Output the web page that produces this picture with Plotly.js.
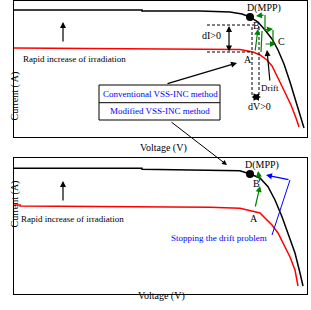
<!DOCTYPE html>
<html>
<head>
<meta charset="utf-8">
<script src="https://cdn.plot.ly/plotly-3.0.1.min.js"></script>
<style>html,body{margin:0;padding:0;background:#fff}#chart{width:311px;height:310px}</style>
</head>
<body>
<div id="chart"></div>
<script>
// ---- Data (voltage / current readings, arbitrary units) ----
// Top panel: conventional VSS-INC method
var topHighV = [0, 128, 128, 186, 216, 228, 236, 244, 251, 258, 264, 270, 276, 282, 287, 290];
var topHighI = [127, 127, 126, 126, 125, 123, 120, 115, 107, 98, 87, 73, 55, 35, 17, 9];
var topLowV  = [0, 226, 239, 246, 253, 258, 264, 271, 277, 282, 285];
var topLowI  = [89, 87.5, 85, 82, 77, 71, 59, 45, 32, 19, 10];
var topMppV = [236];
var topMppI = [120];
// Bottom panel: modified VSS-INC method
var botHighV = [0, 128, 128, 216, 226, 236, 246, 254, 261, 268, 274, 281, 286, 289];
var botHighI = [125.7, 125.7, 124.7, 124, 123.3, 120, 116, 107.3, 94, 77.3, 61, 41, 21, 8];
var botLowV  = [0, 6, 6, 136, 196, 226, 239, 246, 251, 258, 264, 269, 276, 281, 284];
var botLowI  = [89, 89, 88, 87.3, 86.7, 85.7, 83, 81, 76, 69, 61, 51, 37, 24, 8];
var botMppV = [236];
var botMppI = [120];

var legendLabels = ['Conventional VSS-INC method', 'Modified VSS-INC method'];
var xTitle = 'Voltage (V)';
var yTitles = ['Current ( A)', 'Current (A)'];
var irradText = 'Rapid increase of irradiation';
var stopText = 'Stopping the drift problem';

var SERIF = '"Liberation Serif", "Times New Roman", serif';
var GREEN = '#008000', BLUE = '#0000ff', RED = '#ff0000';
var DASH = '3px,2px';

function line(x, y, xa, ya, color, w) {
  return {type: 'scatter', mode: 'lines', x: x, y: y, xaxis: xa, yaxis: ya,
          line: {color: color, width: w || 1.5}, hoverinfo: 'skip', showlegend: false};
}
function dot(x, y, xa, ya) {
  return {type: 'scatter', mode: 'markers', x: x, y: y, xaxis: xa, yaxis: ya,
          marker: {color: '#000', size: 8}, hoverinfo: 'skip', showlegend: false};
}
var data = [
  line(topHighV, topHighI, 'x', 'y', '#000'),
  line(topLowV, topLowI, 'x', 'y', RED),
  line(botHighV, botHighI, 'x2', 'y2', '#000'),
  line(botLowV, botLowI, 'x2', 'y2', RED),
  dot(topMppV, topMppI, 'x', 'y'),
  dot(botMppV, botMppI, 'x2', 'y2')
];

function txt(t, x, y, p, size, color, extra) {
  var a = {text: t, x: x, y: y, xref: p === 2 ? 'x2' : 'x', yref: p === 2 ? 'y2' : 'y',
           showarrow: false, font: {family: SERIF, size: size, color: color || '#000'}};
  for (var k in extra || {}) a[k] = extra[k];
  return a;
}
function arrow(x0, y0, x1, y1, p, color, extra) {
  var xr = p === 2 ? 'x2' : 'x', yr = p === 2 ? 'y2' : 'y';
  var a = {x: x1, y: y1, ax: x0, ay: y0, xref: xr, yref: yr, axref: xr, ayref: yr,
           text: '', showarrow: true, arrowhead: 2, arrowsize: 1, arrowwidth: 1.2,
           arrowcolor: color || '#000'};
  for (var k in extra || {}) a[k] = extra[k];
  return a;
}
function seg(x0, y0, x1, y1, p, color, dash, w) {
  return {type: 'line', x0: x0, y0: y0, x1: x1, y1: y1,
          xref: p === 2 ? 'x2' : 'x', yref: p === 2 ? 'y2' : 'y',
          line: {color: color || '#000', width: w || 1, dash: dash || 'solid'}};
}

var annotations = [
  // axis titles
  {text: yTitles[0], x: 6 / 311, y: 1 - 70 / 310, xref: 'paper', yref: 'paper', showarrow: false,
   textangle: -90, font: {family: SERIF, size: 10, color: '#000'}},
  {text: xTitle, x: 163 / 311, y: 1 - 148 / 310, xref: 'paper', yref: 'paper', showarrow: false,
   font: {family: SERIF, size: 10, color: '#000'}},
  {text: yTitles[1], x: 6 / 311, y: 1 - 230 / 310, xref: 'paper', yref: 'paper', showarrow: false,
   textangle: -90, font: {family: SERIF, size: 10, color: '#000'}},
  {text: xTitle, x: 161 / 311, y: 1 - 304 / 310, xref: 'paper', yref: 'paper', showarrow: false,
   font: {family: SERIF, size: 10, color: '#000'}},
  // top panel
  arrow(49, 94, 49, 115, 1),
  txt(irradText, 7, 78, 1, 9, '#000', {xanchor: 'left'}),
  txt(legendLabels[0], 146, 43, 1, 9, BLUE),
  txt(legendLabels[1], 146, 26, 1, 9, BLUE),
  arrow(152, 53, 223, 74, 1),
  txt('dI>0', 197, 101, 1, 10),
  arrow(215, 84, 215, 111, 1, '#000', {arrowside: 'end+start'}),
  arrow(236, 40, 247, 40, 1, '#000', {arrowside: 'end+start', arrowwidth: 1.5}),
  txt('dV>0', 245, 30, 1, 10),
  txt('Drift', 256, 49, 1, 9),
  arrow(256, 55, 253, 87, 1),
  txt('D(MPP)', 250, 129, 1, 10),
  txt('B', 242, 111, 1, 10),
  txt('A', 234, 77, 1, 10),
  txt('C', 267, 95, 1, 10),
  arrow(241, 85, 244, 108, 1, GREEN),
  arrow(251, 122, 242, 121, 1, GREEN),
  arrow(249, 107, 259, 108, 1, GREEN),
  arrow(250, 93, 262, 93, 1, GREEN),
  // bottom panel
  arrow(49, 92, 49, 113, 2),
  txt(irradText, 5, 75, 2, 9, '#000', {xanchor: 'left'}),
  txt('D(MPP)', 248, 129, 2, 10),
  txt('B', 242, 111, 2, 10),
  txt('A', 240, 76, 2, 10),
  arrow(241, 86, 246, 108, 2, GREEN),
  arrow(246, 111, 244, 123, 2, GREEN),
  arrow(276, 114, 252, 119, 2, BLUE),
  txt(stopText, 205, 56, 2, 9, BLUE),
  // connector from legend to bottom panel
  {x: 227 / 311, y: 1 - 165 / 310, xref: 'paper', yref: 'paper', ax: -57, ay: -44,
   text: '', showarrow: true, arrowhead: 2, arrowsize: 1, arrowwidth: 1, arrowcolor: '#000'}
];

var shapes = [
  // legend box
  {type: 'rect', x0: 85, x1: 206, y0: 17, y1: 52, xref: 'x', yref: 'y',
   line: {color: '#000', width: 1}, fillcolor: 'rgba(0,0,0,0)'},
  seg(85, 34.3, 206, 34.3, 1),
  // dI dashed guides
  seg(193, 112, 240, 112, 1, '#000', DASH),
  seg(193, 85, 238, 85, 1, '#000', DASH),
  // dV dashed guides
  seg(238, 110, 238, 41, 1, '#000', DASH),
  seg(245, 110, 245, 41, 1, '#000', DASH),
  // green tracking path segments
  seg(247, 85, 248, 106, 1, GREEN, 'solid', 1.2),
  seg(251, 106, 251, 122, 1, GREEN, 'solid', 1.2),
  seg(259, 107, 259, 93, 1, GREEN, 'solid', 1.2),
  // blue path bottom
  seg(258, 59, 276, 114, 2, BLUE, 'solid', 1)
];

var axBase = {showgrid: false, zeroline: false, showticklabels: false, ticks: '',
              showline: true, mirror: true, linecolor: '#000', linewidth: 1.2, fixedrange: true};
function ax(extra) { var o = {}; for (var k in axBase) o[k] = axBase[k]; for (var k2 in extra) o[k2] = extra[k2]; return o; }

var layout = {
  width: 311, height: 310,
  margin: {l: 0, r: 0, t: 0, b: 0},
  paper_bgcolor: '#fff', plot_bgcolor: '#fff',
  showlegend: false,
  xaxis: ax({domain: [14 / 311, 307 / 311], range: [0, 293], anchor: 'y'}),
  yaxis: ax({domain: [1 - 137 / 310, 1 - 1 / 310], range: [0, 136], anchor: 'x'}),
  xaxis2: ax({domain: [14 / 311, 307 / 311], range: [0, 293], anchor: 'y2'}),
  yaxis2: ax({domain: [1 - 294 / 310, 1 - 158 / 310], range: [0, 136], anchor: 'x2'}),
  annotations: annotations,
  shapes: shapes
};

Plotly.newPlot('chart', data, layout, {displayModeBar: false, staticPlot: true});
</script>
</body>
</html>
